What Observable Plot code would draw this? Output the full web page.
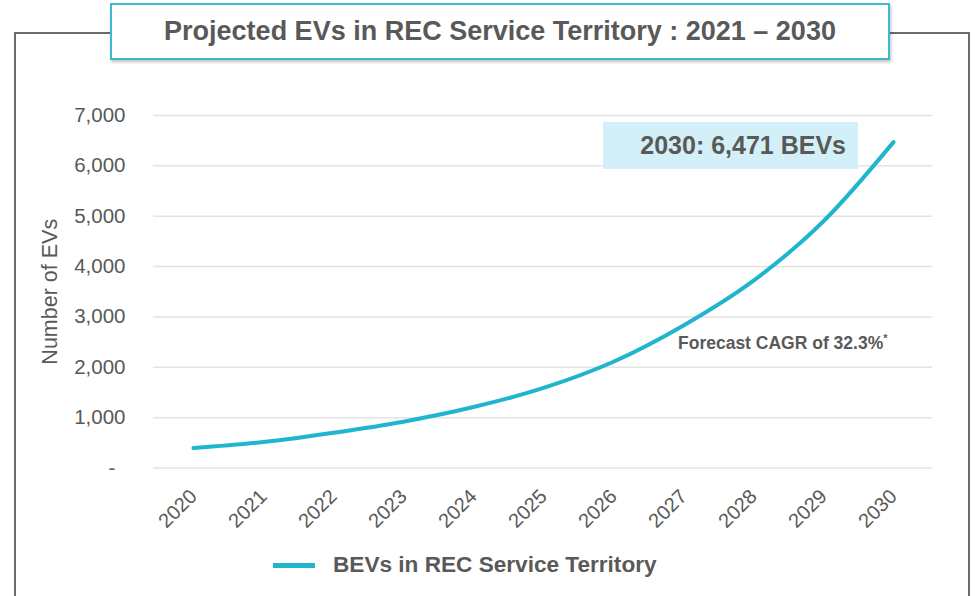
<!DOCTYPE html>
<html>
<head>
<meta charset="utf-8">
<script src="https://cdn.jsdelivr.net/npm/d3@7"></script>
<script src="https://cdn.jsdelivr.net/npm/@observablehq/plot@0.6"></script>
<style>
  html, body { margin: 0; padding: 0; background: #fff; }
  #wrap { position: relative; width: 977px; height: 596px; overflow: hidden; font-family: "Liberation Sans", Arial, sans-serif; }
  #chart { position: absolute; left: 0; top: 0; }
  #frame { position: absolute; left: 14px; top: 32px; width: 956px; height: 600px; border: 2px solid #6b6b6b; box-sizing: border-box; }
  #title { position: absolute; left: 110px; top: 3px; width: 780px; height: 57px; box-sizing: border-box; border: 2px solid #3db8cc; background: #fff; box-shadow: 1px 2px 3px rgba(0,0,0,0.25); display: flex; align-items: center; justify-content: center; font-weight: bold; font-size: 27px; color: #595959; white-space: nowrap; }
  #callout { position: absolute; left: 603px; top: 122px; width: 255px; height: 47px; background: #d3eff7; box-sizing: border-box; display: flex; align-items: center; justify-content: flex-end; padding-right: 12px; font-weight: bold; font-size: 25px; color: #595959; white-space: nowrap; }
  #cagr { position: absolute; left: 678px; top: 332px; font-weight: bold; font-size: 17.5px; color: #595959; white-space: nowrap; }
  #cagr sup { font-size: 11px; }
  #legend { position: absolute; left: 273px; top: 552px; display: flex; align-items: center; font-weight: bold; font-size: 22.6px; color: #595959; white-space: nowrap; }
  #legend .sw { width: 42px; height: 5px; background: #1fb5cd; margin-right: 18px; }
</style>
</head>
<body>
<div id="wrap">
  <div id="chart"></div>
  <div id="frame"></div>
  <div id="title"></div>
  <div id="callout"></div>
  <div id="cagr"></div>
  <div id="legend"><div class="sw"></div><span id="legendText"></span></div>
</div>
<script>
const titleText = "Projected EVs in REC Service Territory : 2021 – 2030";
const yLabel = "Number of EVs";
const seriesName = "BEVs in REC Service Territory";
const calloutText = "2030: 6,471 BEVs";
const cagrText = "Forecast CAGR of 32.3%";
const years = ["2020","2021","2022","2023","2024","2025","2026","2027","2028","2029","2030"];
const bevs = [395, 515, 700, 920, 1210, 1590, 2110, 2830, 3720, 4900, 6471];
const yTicks = [0, 1000, 2000, 3000, 4000, 5000, 6000, 7000];

const data = years.map((y, i) => ({year: y, value: bevs[i]}));

const chart = Plot.plot({
  width: 977,
  height: 596,
  marginLeft: 153,
  marginRight: 45,
  marginTop: 115,
  marginBottom: 128.5,
  style: { fontFamily: "Liberation Sans, Arial, sans-serif", background: "transparent", color: "#595959" },
  x: { type: "point", domain: years, padding: 0.5 },
  y: { domain: [0, 7000] },
  marks: [
    Plot.ruleY(yTicks, { stroke: "#e3e3e3", strokeWidth: 1.5 }),
    Plot.axisY({ ticks: yTicks, tickSize: 0, tickPadding: 28, fontSize: 20.5, label: null,
      tickFormat: d => d === 0 ? "-\u2002" : d3.format(",")(d) }),
    Plot.axisY({ ticks: [], tickSize: 0, fontSize: 21.5,
      label: yLabel, labelAnchor: "center", labelArrow: "none", labelOffset: 112 }),
    Plot.axisX({ tickSize: 0, tickRotate: -45, tickPadding: 25, fontSize: 20, label: null }),
    Plot.line(data, { x: "year", y: "value", stroke: "#1fb5cd", strokeWidth: 4, curve: "monotone-x" })
  ]
});
document.getElementById("chart").appendChild(chart);
document.getElementById("title").textContent = titleText;
document.getElementById("callout").textContent = calloutText;
document.getElementById("cagr").innerHTML = cagrText + "<sup>*</sup>";
document.getElementById("legendText").textContent = seriesName;
</script>
</body>
</html>
